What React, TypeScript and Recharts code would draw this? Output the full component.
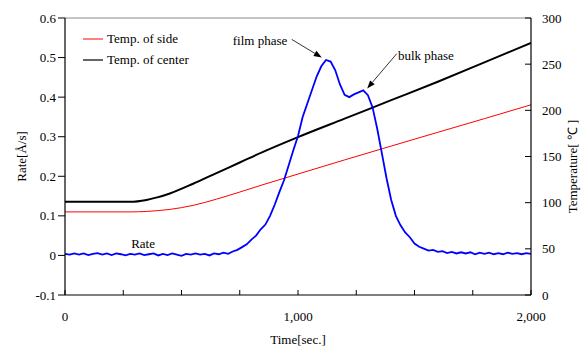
import React from 'react';
import { LineChart, Line, XAxis, YAxis, ReferenceLine, ReferenceDot, Legend } from 'recharts';

const FONT = '"Liberation Serif", "Times New Roman", serif';

const timeTicks = [0, 250, 500, 750, 1000, 1250, 1500, 1750, 2000];
const rateTicks = [-0.1, 0, 0.1, 0.2, 0.3, 0.4, 0.5, 0.6];
const tempTicks = [0, 50, 100, 150, 200, 250, 300];

// Temperature curves (°C, right axis)
const tempTime = [0, 280, 350, 400, 450, 550, 650, 750, 850, 1000, 1200, 1400, 1600, 1800, 2000];
const sideTemp = [90, 90, 90.5, 91.4, 92.7, 97.1, 103.8, 111.5, 119.5, 131, 146.3, 161.3, 176.2, 191, 206];
const centerTemp = [101, 101, 103, 106, 110, 120.5, 132, 143.5, 155, 171, 191, 211, 231, 252, 273];

// Deposition rate (Å/s, left axis)
const rateTime = [
  0, 20, 40, 60, 80, 100, 120, 140, 160, 180, 200, 220, 240, 260, 280, 300, 320, 340, 360, 380,
  400, 420, 440, 460, 480, 500, 520, 540, 560, 580, 600, 620, 640, 660, 680, 700, 720, 740, 760, 780,
  800, 820, 840, 860, 880, 900, 920, 940, 960, 980, 1000, 1020, 1040, 1060, 1080, 1100, 1120, 1140, 1160, 1180,
  1200, 1220, 1240, 1260, 1280, 1300, 1320, 1340, 1360, 1380, 1400, 1420, 1440, 1460, 1480, 1500, 1520, 1540, 1560, 1580,
  1600, 1620, 1640, 1660, 1680, 1700, 1720, 1740, 1760, 1780, 1800, 1820, 1840, 1860, 1880, 1900, 1920, 1940, 1960, 1980, 2000,
];
const rateValue = [
  0.004, 0.002, 0.005, 0.002, 0.005, 0.001, 0.004, 0.006, 0.002, 0.005, 0.001, 0.005, 0.003, 0.0, 0.004, 0.002, 0.005, 0.001, 0.003, 0.005,
  0.0, 0.004, 0.001, 0.005, 0.002, -0.001, 0.004, 0.002, 0.005, 0.002, 0.004, 0.0, 0.005, 0.003, 0.007, 0.004, 0.01, 0.014, 0.021, 0.028,
  0.04, 0.05, 0.066, 0.078, 0.1, 0.128, 0.16, 0.19, 0.228, 0.266, 0.302, 0.35, 0.384, 0.418, 0.452, 0.478, 0.494, 0.49, 0.468, 0.432,
  0.406, 0.4, 0.407, 0.412, 0.417, 0.405, 0.374, 0.32, 0.258, 0.195, 0.14, 0.1, 0.076, 0.058, 0.046, 0.03, 0.022, 0.017, 0.012, 0.014,
  0.009, 0.011, 0.006, 0.009, 0.005, 0.008, 0.005, 0.008, 0.003, 0.007, 0.004, 0.007, 0.003, 0.006, 0.003, 0.007, 0.004, 0.006, 0.003, 0.006, 0.004,
];

const sideData = tempTime.map((t, i) => ({ t, v: sideTemp[i] }));
const centerData = tempTime.map((t, i) => ({ t, v: centerTemp[i] }));
const rateData = rateTime.map((t, i) => ({ t, v: rateValue[i] }));

const legendItems = [
  { name: 'Temp. of side', color: '#ff0000', width: 1 },
  { name: 'Temp. of center', color: '#333333', width: 1.5 },
];

const ArrowShape = (props: any) => {
  const { x1, y1, x2, y2 } = props;
  const a = Math.atan2(y2 - y1, x2 - x1);
  const len = 8;
  const w = 3;
  const bx = x2 - len * Math.cos(a);
  const by = y2 - len * Math.sin(a);
  const px = -Math.sin(a) * w;
  const py = Math.cos(a) * w;
  return (
    <g>
      <line x1={x1} y1={y1} x2={bx} y2={by} stroke="#000" strokeWidth={0.8} />
      <polygon points={`${x2},${y2} ${bx + px},${by + py} ${bx - px},${by - py}`} fill="#000" />
    </g>
  );
};

const textLabel = (value: string) => (props: any) => {
  const { viewBox } = props;
  const cx = viewBox.x + (viewBox.width || 0) / 2;
  const cy = viewBox.y + (viewBox.height || 0) / 2;
  return (
    <text x={cx} y={cy} textAnchor="middle" dominantBaseline="central" fontFamily={FONT} fontSize={13} fill="#000">
      {value}
    </text>
  );
};

function LegendBox() {
  return (
    <div style={{ fontFamily: FONT, fontSize: 13, color: '#000' }}>
      {legendItems.map((it) => (
        <div key={it.name} style={{ display: 'flex', alignItems: 'center', height: 21 }}>
          <svg width={20} height={4} style={{ marginRight: 4 }}>
            <line x1={0} y1={2} x2={20} y2={2} stroke={it.color} strokeWidth={it.width} />
          </svg>
          <span>{it.name}</span>
        </div>
      ))}
    </div>
  );
}

export default function App() {
  const tickStyle = { fill: '#000', fontSize: 13, fontFamily: FONT };
  return (
    <div style={{ position: 'absolute', left: 0, top: 0, width: 581, height: 347, background: '#fff' }}>
      <LineChart width={581} height={347} margin={{ top: 18, right: 0, bottom: 0, left: 0 }}>
        <XAxis
          dataKey="t"
          type="number"
          domain={[0, 2000]}
          ticks={timeTicks}
          tickFormatter={(v: number) => (v % 1000 === 0 ? v.toLocaleString('en-US') : '')}
          height={52}
          tickSize={-5}
          tickMargin={22}
          tick={tickStyle}
          axisLine={{ stroke: '#000', strokeWidth: 1.2 }}
          tickLine={{ stroke: '#000' }}
          allowDataOverflow
          label={{
            content: (p: any) => (
              <text
                x={p.viewBox.x + p.viewBox.width / 2}
                y={p.viewBox.y + 49}
                textAnchor="middle"
                fontFamily={FONT}
                fontSize={13}
                fill="#000"
              >
                Time[sec.]
              </text>
            ),
          }}
        />
        <YAxis
          yAxisId="rate"
          orientation="left"
          width={65}
          domain={[-0.1, 0.6]}
          ticks={rateTicks}
          tickFormatter={(v: number) => (v === 0 ? '0' : v.toFixed(1))}
          tickSize={7}
          tickMargin={2}
          tick={tickStyle}
          axisLine={{ stroke: '#000', strokeWidth: 1.2 }}
          tickLine={{ stroke: '#000' }}
          allowDataOverflow
          label={{
            content: (p: any) => {
              const x = p.viewBox.x + 21;
              const y = p.viewBox.y + p.viewBox.height / 2;
              return (
                <text
                  x={x}
                  y={y}
                  transform={`rotate(-90 ${x} ${y})`}
                  textAnchor="middle"
                  dominantBaseline="central"
                  fontFamily={FONT}
                  fontSize={13}
                  fill="#000"
                >
                  Rate[Å/s]
                </text>
              );
            },
          }}
        />
        <YAxis
          yAxisId="temp"
          orientation="right"
          width={50}
          domain={[0, 300]}
          ticks={tempTicks}
          tickSize={-6}
          tickMargin={17}
          tick={tickStyle}
          axisLine={{ stroke: '#000', strokeWidth: 1.2 }}
          tickLine={{ stroke: '#000' }}
          allowDataOverflow
          label={{
            content: (p: any) => {
              const x = p.viewBox.x + 41;
              const y = p.viewBox.y + p.viewBox.height / 2 + 10;
              return (
                <text
                  x={x}
                  y={y}
                  transform={`rotate(-90 ${x} ${y})`}
                  textAnchor="middle"
                  dominantBaseline="central"
                  fontFamily={FONT}
                  fontSize={13}
                  fill="#000"
                >
                  Temperature[ ℃ ]
                </text>
              );
            },
          }}
        />
        <ReferenceLine yAxisId="rate" y={0.6} stroke="#888" strokeWidth={1} />
        <Legend
          layout="vertical"
          align="center"
          verticalAlign="middle"
          content={() => <LegendBox />}
          wrapperStyle={{ position: 'absolute', left: 83, top: 28, width: 'auto', height: 'auto' }}
        />
        <Line
          yAxisId="temp"
          data={sideData}
          dataKey="v"
          name="Temp. of side"
          type="monotone"
          stroke="#ff0000"
          strokeWidth={1}
          dot={false}
          isAnimationActive={false}
        />
        <Line
          yAxisId="temp"
          data={centerData}
          dataKey="v"
          name="Temp. of center"
          type="monotone"
          stroke="#000000"
          strokeWidth={2}
          dot={false}
          isAnimationActive={false}
        />
        <Line
          yAxisId="rate"
          data={rateData}
          dataKey="v"
          name="Rate"
          type="linear"
          stroke="#0000ff"
          strokeWidth={1.8}
          dot={false}
          isAnimationActive={false}
        />
        <ReferenceLine
          yAxisId="rate"
          segment={[{ x: 973, y: 0.546 }, { x: 1102, y: 0.5 }]}
          shape={ArrowShape}
        />
        <ReferenceLine
          yAxisId="rate"
          segment={[{ x: 1424, y: 0.51 }, { x: 1297, y: 0.422 }]}
          shape={ArrowShape}
        />
        <ReferenceDot yAxisId="rate" x={837} y={0.544} r={0} fill="none" stroke="none" label={{ content: textLabel('film phase') }} />
        <ReferenceDot yAxisId="rate" x={1549} y={0.506} r={0} fill="none" stroke="none" label={{ content: textLabel('bulk phase') }} />
        <ReferenceDot yAxisId="rate" x={335} y={0.031} r={0} fill="none" stroke="none" label={{ content: textLabel('Rate') }} />
      </LineChart>
    </div>
  );
}
